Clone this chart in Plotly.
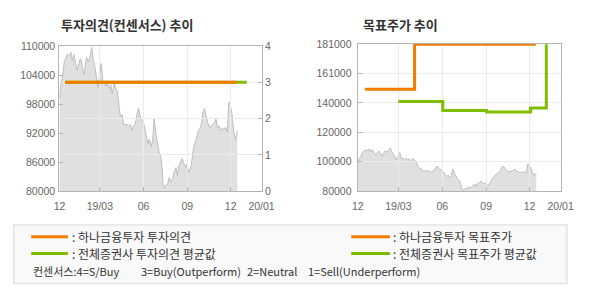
import plotly.graph_objects as go

# ---------------- data ----------------
price_dates = [
    "2018-12-06", "2018-12-09", "2018-12-13", "2018-12-16", "2018-12-20", "2018-12-23", "2018-12-26", "2018-12-30",
    "2019-01-02", "2019-01-05", "2019-01-09", "2019-01-12", "2019-01-16", "2019-01-19", "2019-01-22", "2019-01-26",
    "2019-01-29", "2019-02-01", "2019-02-05", "2019-02-08", "2019-02-12", "2019-02-15", "2019-02-18", "2019-02-22",
    "2019-02-25", "2019-02-28", "2019-03-04", "2019-03-07", "2019-03-11", "2019-03-14", "2019-03-17", "2019-03-21",
    "2019-03-24", "2019-03-27", "2019-03-31", "2019-04-03", "2019-04-07", "2019-04-10", "2019-04-13", "2019-04-17",
    "2019-04-20", "2019-04-24", "2019-04-27", "2019-04-30", "2019-05-04", "2019-05-07", "2019-05-10", "2019-05-14",
    "2019-05-17", "2019-05-21", "2019-05-24", "2019-05-27", "2019-05-31", "2019-06-03", "2019-06-06", "2019-06-10",
    "2019-06-13", "2019-06-17", "2019-06-20", "2019-06-23", "2019-06-27", "2019-06-30", "2019-07-03", "2019-07-07",
    "2019-07-10", "2019-07-12", "2019-07-15", "2019-07-18", "2019-07-22", "2019-07-25", "2019-07-28", "2019-08-01",
    "2019-08-04", "2019-08-08", "2019-08-11", "2019-08-14", "2019-08-18", "2019-08-21", "2019-08-24", "2019-08-28",
    "2019-08-31", "2019-09-04", "2019-09-07", "2019-09-10", "2019-09-14", "2019-09-17", "2019-09-20", "2019-09-24",
    "2019-09-27", "2019-10-01", "2019-10-04", "2019-10-07", "2019-10-11", "2019-10-14", "2019-10-18", "2019-10-21",
    "2019-10-24", "2019-10-28", "2019-10-31", "2019-11-03", "2019-11-07", "2019-11-10", "2019-11-14", "2019-11-17",
    "2019-11-20", "2019-11-24", "2019-11-27", "2019-11-30", "2019-12-04", "2019-12-07", "2019-12-11", "2019-12-14",
    "2019-12-15",
]
price_values = [
    99400, 102000, 104000, 106700, 107700, 108300, 108000, 108700,
    107000, 108300, 106400, 105000, 106400, 107400, 106400, 104000,
    105700, 107700, 106700, 107700, 109700, 107000, 106000, 103400,
    101400, 104000, 106400, 102400, 102400, 101700, 102400, 101100,
    102000, 100100, 102400, 101400, 100400, 97800, 95500, 95800,
    93800, 93800, 93800, 93500, 93800, 92500, 93500, 93800,
    95100, 97200, 95800, 94800, 94500, 93200, 91500, 89800,
    90800, 89200, 90500, 95100, 91800, 89800, 88200, 87200,
    84600, 81300, 80600, 81300, 81600, 82900, 81900, 82600,
    83900, 84900, 83200, 85200, 85900, 86700, 85900, 84900,
    85600, 83900, 84600, 85900, 88900, 89800, 90800, 92500,
    92800, 94100, 96500, 97100, 95500, 94100, 93200, 93500,
    93800, 94100, 95100, 93200, 93500, 92500, 93000, 92800,
    93200, 92200, 98400, 98100, 95800, 92800, 90500, 92200,
    92500,
]

opinion_hana_dates = ["2018-12-18", "2019-12-14"]
opinion_hana = [3, 3]
opinion_avg_dates = ["2018-12-18", "2020-01-04"]
opinion_avg = [3, 3]

target_hana_dates = ["2018-12-21", "2019-04-04", "2019-12-14"]
target_hana = [150000, 181000, 181000]
target_avg_dates = ["2019-03-01", "2019-06-02", "2019-09-02", "2019-12-03", "2020-01-05"]
target_avg = [141500, 135300, 134400, 137100, 181000]

x_range = ["2018-12-05 12:00", "2020-02-04 12:00"]
x_tickvals = ["2018-12-06", "2019-03-01", "2019-06-01", "2019-09-01", "2019-12-01", "2020-02-04"]
x_ticktext = ["12", "19/03", "06", "09", "12", "20/01"]

price_ticks_left = [80000, 86000, 92000, 98000, 104000, 110000]
opinion_ticks = [0, 1, 2, 3, 4]
price_ticks_right = [80000, 100200, 120400, 140600, 160800, 181000]
price_ticktext_right = ["80000", "100000", "120000", "140000", "161000", "181000"]

legend_left = [": 하나금융투자 투자의견", ": 전체증권사 투자의견 평균값"]
legend_right = [": 하나금융투자 목표주가", ": 전체증권사 목표주가 평균값"]
consensus_text = ["컨센서스:4=S/Buy", "3=Buy(Outperform)", "2=Neutral", "1=Sell(Underperform)"]

# ---------------- style ----------------
W, H = 590, 300
ORANGE = "#f47b00"
GREEN = "#7fbd00"
AREA_FILL = "#e0e0e0"
AREA_LINE = "#bdbdbd"
GRID = "#ebebeb"
FRAME = "#b4b4b4"
TICKC = "#666666"
TICKFONT = dict(family="Liberation Sans, Arial, sans-serif", size=10.5, color=TICKC)
KFONT = "Noto Sans CJK KR, sans-serif"


def px(x):
    return x / W


def py(y):
    return 1 - y / H


L_dom = [px(55), px(264.3)]
L_ydom = [py(193), py(41.7)]
R_dom = [px(363.3), px(573.3)]
R_ydom = [py(192.7), py(39.3)]

fig = go.Figure()

# left: price area (subplot xy)
fig.add_trace(go.Scatter(x=price_dates, y=price_values, mode="lines", fill="tozeroy",
                         fillcolor=AREA_FILL, line=dict(color=AREA_LINE, width=1),
                         xaxis="x", yaxis="y", showlegend=False, hoverinfo="skip"))
# left: opinion lines (subplot x2y2, drawn above grid)
fig.add_trace(go.Scatter(x=opinion_avg_dates, y=opinion_avg, mode="lines",
                         line=dict(color=GREEN, width=3), xaxis="x2", yaxis="y2",
                         name="전체증권사 투자의견 평균값", showlegend=False))
fig.add_trace(go.Scatter(x=opinion_hana_dates, y=opinion_hana, mode="lines",
                         line=dict(color=ORANGE, width=3), xaxis="x2", yaxis="y2",
                         name="하나금융투자 투자의견", showlegend=False))
# right: price area (subplot x3y3)
fig.add_trace(go.Scatter(x=price_dates, y=price_values, mode="lines", fill="tozeroy",
                         fillcolor=AREA_FILL, line=dict(color=AREA_LINE, width=1),
                         xaxis="x3", yaxis="y3", showlegend=False, hoverinfo="skip"))
# right: target price lines (subplot x4y4)
fig.add_trace(go.Scatter(x=target_hana_dates, y=target_hana, mode="lines", line_shape="hv",
                         line=dict(color=ORANGE, width=3), xaxis="x4", yaxis="y4",
                         name="하나금융투자 목표주가", showlegend=False))
fig.add_trace(go.Scatter(x=target_avg_dates, y=target_avg, mode="lines", line_shape="hv",
                         line=dict(color=GREEN, width=3), xaxis="x4", yaxis="y4",
                         name="전체증권사 목표주가 평균값", showlegend=False))

hidden_x = dict(type="date", range=x_range, showgrid=False, showticklabels=False,
                ticks="", showline=False, zeroline=False, fixedrange=True)
shown_x = dict(type="date", range=x_range, tickmode="array", tickvals=x_tickvals,
               ticktext=x_ticktext, showgrid=True, gridcolor=GRID, gridwidth=1,
               ticks="inside", ticklen=4, tickcolor=FRAME, showline=True, mirror=True,
               linecolor=FRAME, linewidth=1, tickfont=TICKFONT, zeroline=False,
               ticklabelstandoff=5)

right_top = 181300

fig.update_layout(
    width=W, height=H, margin=dict(l=0, r=0, t=0, b=0),
    paper_bgcolor="white", plot_bgcolor="rgba(0,0,0,0)", showlegend=False,
    xaxis=dict(domain=L_dom, anchor="y", **hidden_x),
    yaxis=dict(domain=L_ydom, anchor="x", range=[80000, 110000], tickmode="array",
               tickvals=price_ticks_left, ticktext=[str(v) for v in price_ticks_left],
               showgrid=False, zeroline=False, ticks="inside", ticklen=4, tickcolor=FRAME,
               tickfont=TICKFONT, showline=False, ticklabelstandoff=3),
    xaxis2=dict(domain=L_dom, anchor="y2", **shown_x),
    yaxis2=dict(domain=L_ydom, anchor="x2", side="right", range=[0, 4], tickmode="array",
                tickvals=opinion_ticks, showgrid=True, gridcolor=GRID, zeroline=False,
                ticks="inside", ticklen=4, tickcolor=FRAME, tickfont=TICKFONT,
                showline=True, mirror=True, linecolor=FRAME),
    xaxis3=dict(domain=R_dom, anchor="y3", **hidden_x),
    yaxis3=dict(domain=R_ydom, anchor="x3", range=[80000, right_top], showgrid=False,
                showticklabels=False, ticks="", zeroline=False, showline=False),
    xaxis4=dict(domain=R_dom, anchor="y4", **shown_x),
    yaxis4=dict(domain=R_ydom, anchor="x4", range=[80000, right_top], tickmode="array",
                tickvals=price_ticks_right, ticktext=price_ticktext_right,
                showgrid=True, gridcolor=GRID, zeroline=False, ticks="inside", ticklen=4,
                tickcolor=FRAME, tickfont=TICKFONT, showline=True, mirror=True,
                linecolor=FRAME, ticklabelstandoff=3),
)

# titles
fig.add_annotation(text="<b>투자의견(컨센서스) 추이</b>", x=px(55), y=py(19.5), xref="paper",
                   yref="paper", xanchor="left", yanchor="middle", showarrow=False,
                   font=dict(family=KFONT, size=13, color="#333333"))
fig.add_annotation(text="<b>목표주가 추이</b>", x=px(367), y=py(19.5), xref="paper",
                   yref="paper", xanchor="left", yanchor="middle", showarrow=False,
                   font=dict(family=KFONT, size=13, color="#333333"))

# legend box
fig.add_shape(type="rect", xref="paper", yref="paper", x0=px(8), x1=px(579.5), y0=py(289),
              y1=py(228), fillcolor="#f9f9f9", line=dict(color="#e3e3e3", width=1.5),
              layer="below")
rows_y = [240.3, 257.7]
for i, (txt, col) in enumerate(zip(legend_left, [ORANGE, GREEN])):
    fig.add_shape(type="line", xref="paper", yref="paper", x0=px(26), x1=px(64),
                  y0=py(rows_y[i]), y1=py(rows_y[i]), line=dict(color=col, width=3))
    fig.add_annotation(text=txt, x=px(66), y=py(rows_y[i]), xref="paper", yref="paper",
                       xanchor="left", yanchor="middle", showarrow=False,
                       font=dict(family=KFONT, size=12, color="#333333"))
for i, (txt, col) in enumerate(zip(legend_right, [ORANGE, GREEN])):
    fig.add_shape(type="line", xref="paper", yref="paper", x0=px(356.7), x1=px(396.7),
                  y0=py(rows_y[i]), y1=py(rows_y[i]), line=dict(color=col, width=3))
    fig.add_annotation(text=txt, x=px(398), y=py(rows_y[i]), xref="paper", yref="paper",
                       xanchor="left", yanchor="middle", showarrow=False,
                       font=dict(family=KFONT, size=12, color="#333333"))
for txt, xx in zip(consensus_text, [26, 137, 247, 310]):
    fig.add_annotation(text=txt, x=px(xx), y=py(276), xref="paper", yref="paper",
                       xanchor="left", yanchor="middle", showarrow=False,
                       font=dict(family=KFONT, size=11, color="#333333"))

fig.write_html("out.html")
